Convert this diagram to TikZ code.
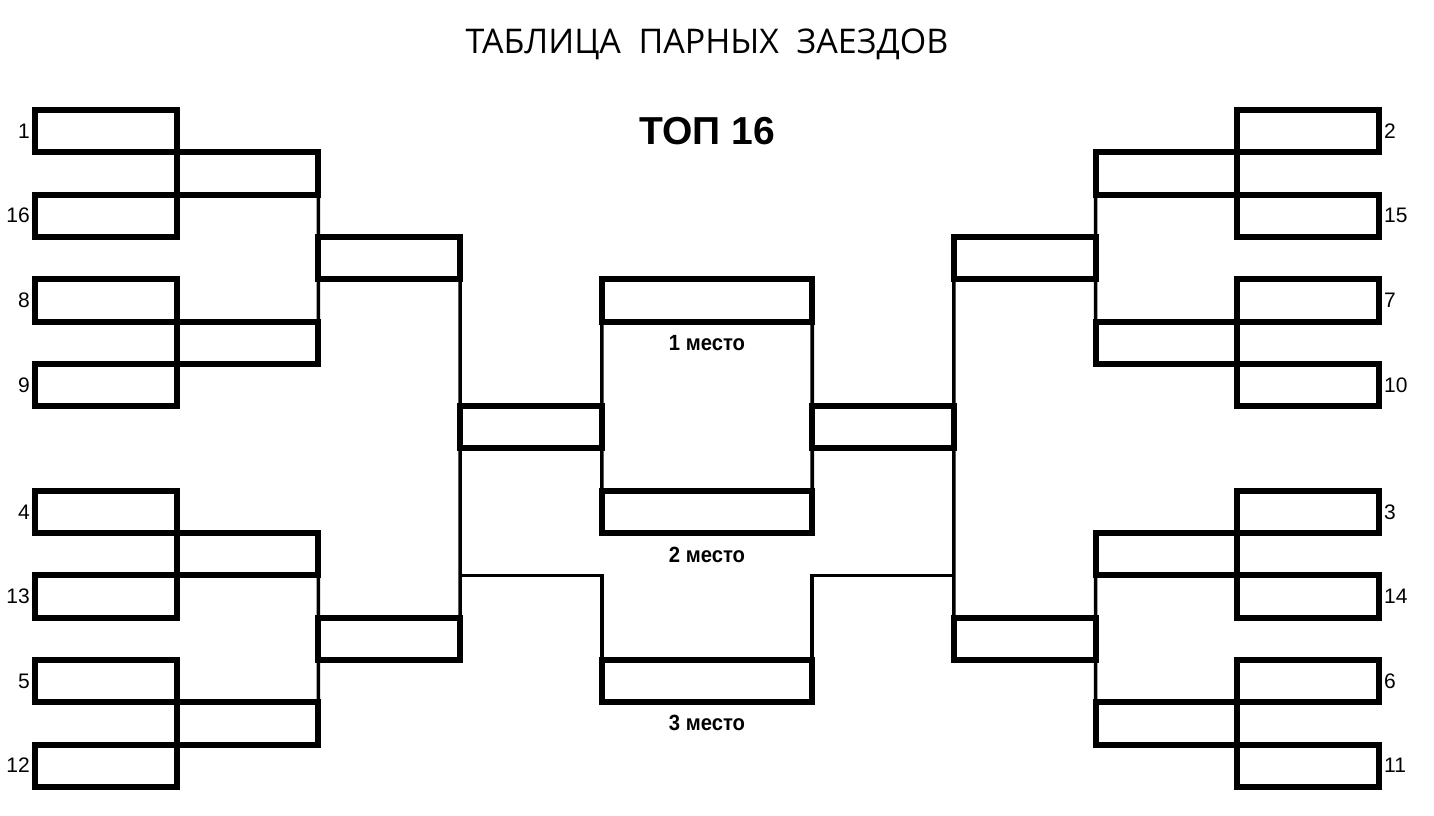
\documentclass[tikz,border=0pt]{standalone}
\usepackage{fontspec}
\setmainfont{Liberation Sans}
\newfontfamily\titlefont{Open Sans}
\begin{document}
\begin{tikzpicture}[x=1pt,y=-1pt,
  box/.style={draw=black,line width=6pt,inner sep=0pt,outer sep=0pt,minimum height=42.3pt,minimum width=141.7pt},
  wide/.style={box,minimum width=210.4pt},
  link/.style={draw=black,line width=3.6pt},
  num/.style={font=\fontsize{21}{21}\selectfont,inner sep=0pt},
  place/.style={font=\bfseries\fontsize{22}{22}\selectfont,inner sep=0pt,xscale=0.92}]
\useasboundingbox[fill=white] (0,0) rectangle (1434,815);
\def\K{42.3}
\def\w{141.7}
% title
\node[font=\titlefont\fontsize{34}{34}\selectfont,inner sep=0pt] (title) at (707,44) {ТАБЛИЦА\ \ ПАРНЫХ\ \ ЗАЕЗДОВ};
\node[font=\bfseries\fontsize{39}{39}\selectfont,inner sep=0pt] (top) at (707,131) {ТОП 16};
% first round boxes
\foreach \k/\nl/\nr/\i in {0/1/2/1,2/16/15/2,4/8/7/3,6/9/10/4,9/4/3/5,11/13/14/6,13/5/6/7,15/12/11/8}{
  \node[box] (la\i) at ({35+\w/2},{110+\K*(\k+0.5)}) {};
  \node[num,anchor=east] (lla\i) at ({30},{110+\K*(\k+0.5)}) {\nl};
  \node[box] (ra\i) at ({1379-\w/2},{110+\K*(\k+0.5)}) {};
  \node[num,anchor=west] (lra\i) at ({1384},{110+\K*(\k+0.5)}) {\nr};
}
% second column boxes
\foreach \k/\i in {1/1,5/2,10/3,14/4}{
  \node[box] (lb\i) at ({35+\w*1.5},{110+\K*(\k+0.5)}) {};
  \node[box] (rb\i) at ({1379-\w*1.5},{110+\K*(\k+0.5)}) {};
}
% third column boxes
\foreach \k/\i in {3/1,12/2}{
  \node[box] (lc\i) at ({35+\w*2.5},{110+\K*(\k+0.5)}) {};
  \node[box] (rc\i) at ({1379-\w*2.5},{110+\K*(\k+0.5)}) {};
}
% semifinal boxes
\node[box] (ld) at ({35+\w*3.5},{110+\K*7.5}) {};
\node[box] (rd) at ({1379-\w*3.5},{110+\K*7.5}) {};
% places
\node[wide] (f1) at (707,{110+\K*4.5}) {};
\node[wide] (f2) at (707,{110+\K*9.5}) {};
\node[wide] (f3) at (707,{110+\K*13.5}) {};
\node[place] (p1) at (707,343) {1 место};
\node[place] (p2) at (707,555) {2 место};
\node[place] (p3) at (707,723) {3 место};
% left connectors
\draw[link] (lb1.south east) -- (lc1.north west);
\draw[link] (lc1.south west) -- (lb2.north east);
\draw[link] (lb3.south east) -- (lc2.north west);
\draw[link] (lc2.south west) -- (lb4.north east);
\draw[link] (lc1.south east) -- (ld.north west);
\draw[link] (ld.south west) -- (lc2.north east);
\draw[link] (f1.south west) -- (ld.north east);
\draw[link] (ld.south east) -- (f2.north west);
\coordinate (jl) at (ld.south west |- lb3.south);
\draw[link] (jl) -- (jl -| f3.north west) -- (f3.north west);
% right connectors
\draw[link] (rb1.south west) -- (rc1.north east);
\draw[link] (rc1.south east) -- (rb2.north west);
\draw[link] (rb3.south west) -- (rc2.north east);
\draw[link] (rc2.south east) -- (rb4.north west);
\draw[link] (rc1.south west) -- (rd.north east);
\draw[link] (rd.south east) -- (rc2.north west);
\draw[link] (f1.south east) -- (rd.north west);
\draw[link] (rd.south west) -- (f2.north east);
\coordinate (jr) at (rd.south east |- rb3.south);
\draw[link] (jr) -- (jr -| f3.north east) -- (f3.north east);
\end{tikzpicture}
\end{document}
